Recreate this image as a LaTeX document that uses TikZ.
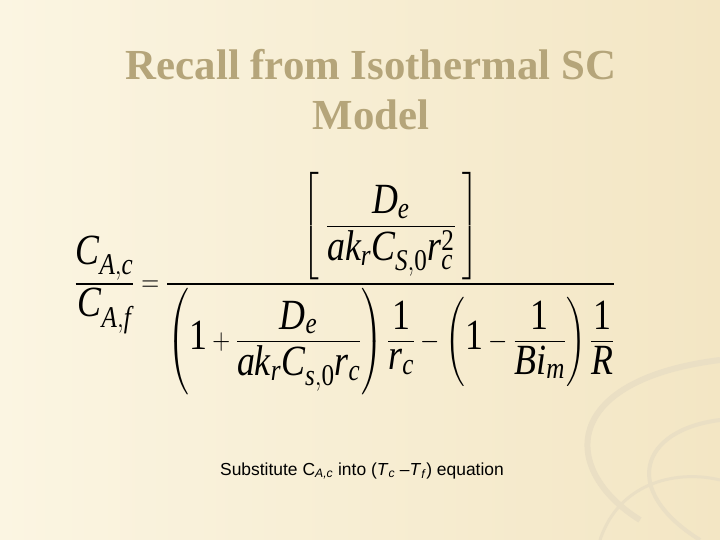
\documentclass[tikz,border=0pt]{standalone}
\usepackage{amsmath}
\usepackage{fontspec}
\setmainfont{Liberation Serif}
\setsansfont{Liberation Sans}
\definecolor{bgA}{HTML}{FBF5E2}
\definecolor{bgB}{HTML}{F3E6C4}
\definecolor{titlec}{HTML}{B5A57A}
\definecolor{swirl}{HTML}{EADFC4}
\newcommand{\mi}[1]{\mathit{#1}}
\newcommand{\mr}[1]{\mathrm{#1}}
\begin{document}
\begin{tikzpicture}[x=1bp,y=-1bp]
\useasboundingbox (0,0) rectangle (720,540);
\shade[left color=bgA,right color=bgB] (0,0) rectangle (720,540);
\draw[swirl,line width=6pt] (720,360) .. controls (560,380) and (560,470) .. (640,520);
\draw[swirl,line width=4pt] (720,420) .. controls (640,430) and (620,490) .. (700,540);
\draw[swirl,line width=3pt] (600,540) .. controls (620,480) and (680,470) .. (720,480);
\node[text=titlec,font=\fontsize{43}{50}\selectfont\bfseries,align=center] (title) at (371,90) {Recall from Isothermal SC\\Model};
\node[font=\fontsize{36}{42}\selectfont,inner sep=0pt,yscale=1.2] (eq) at (345,284) {$\displaystyle \frac{\mi{C}_{\mi{A,c}}}{\mi{C}_{\mi{A,f}}}=\frac{\left[\;\dfrac{\mi{D}_{\mi{e}}}{\mi{ak}_{\mi{r}}\mi{C}_{\mi{S},\mr{0}}\mi{r}_{\mi{c}}^{\mr{2}}}\;\right]}{\left(\mr{1}+\dfrac{\mi{D}_{\mi{e}}}{\mi{ak}_{\mi{r}}\mi{C}_{\mi{s},\mr{0}}\mi{r}_{\mi{c}}}\right)\dfrac{\mr{1}}{\mi{r}_{\mi{c}}}-\left(\mr{1}-\dfrac{\mr{1}}{\mi{Bi}_{\mi{m}}}\right)\dfrac{\mr{1}}{\mi{R}}}$};
\node[font=\sffamily\fontsize{17.5}{20}\selectfont] (note) at (362,471) {Substitute C\textsubscript{\textit{A,c}} into (\textit{T}\textsubscript{\textit{c}} –\textit{T}\textsubscript{\textit{f}}) equation};
\end{tikzpicture}
\end{document}
